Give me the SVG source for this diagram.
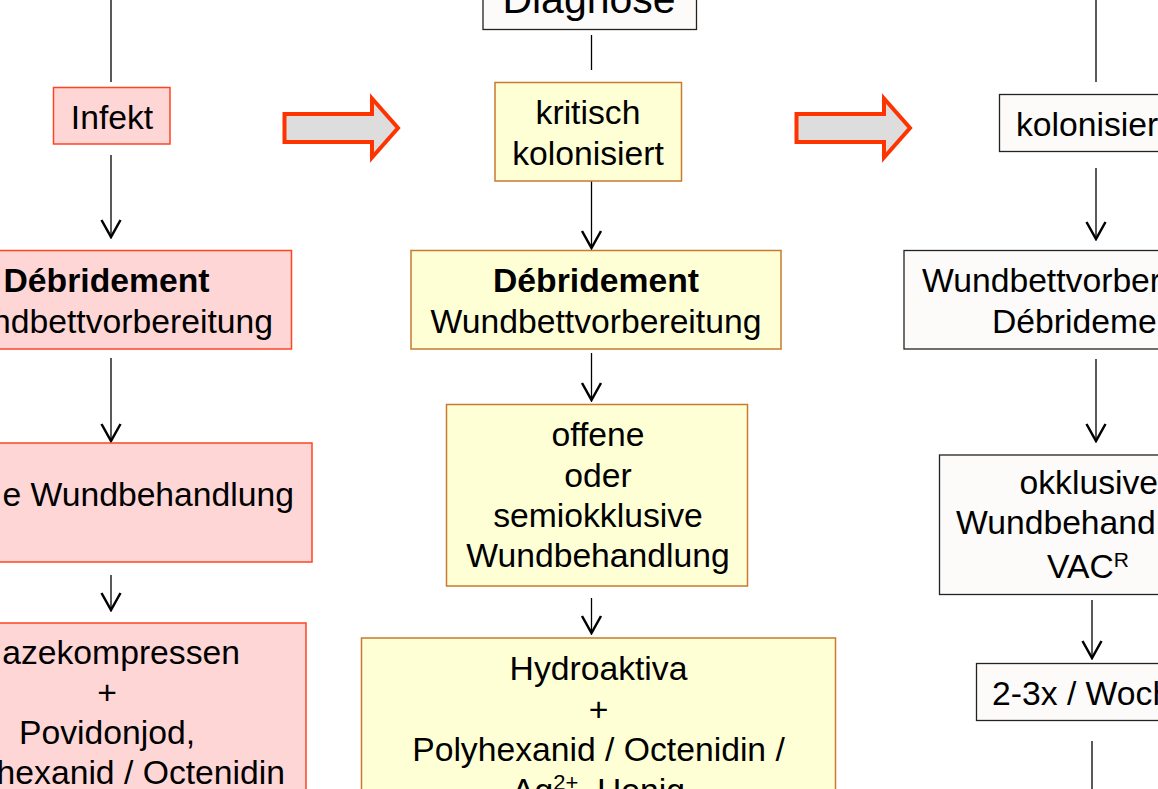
<svg xmlns="http://www.w3.org/2000/svg" width="1158" height="789" viewBox="0 0 1158 789">
<style>
text{font-family:"Liberation Sans",Arial,sans-serif;font-size:33.7px;fill:#000}
.c{text-anchor:middle}
.e{text-anchor:end}
.b{font-weight:bold}
.red rect{fill:#FFD6D6;stroke:#FF4422;stroke-width:1.5}
.yel rect{fill:#FFFFD6;stroke:#C87A2E;stroke-width:1.5}
.wht rect{fill:#FCFBF9;stroke:#222;stroke-width:1.3}
.ln{stroke:#000;stroke-width:1.3;fill:none}
.big{fill:#DDDDDD;stroke:#FF3300;stroke-width:4;stroke-linejoin:miter}
</style>
<defs>
<marker id="v" viewBox="-20 -12 22 24" refX="0" refY="0" markerWidth="22" markerHeight="24" markerUnits="userSpaceOnUse" orient="auto">
<path d="M-17,-9.5 L0,0 L-17,9.5" fill="none" stroke="#000" stroke-width="2.5"/>
</marker>
</defs>
<rect width="1158" height="789" fill="#fff"/>

<g id="connectors">
<line class="ln" x1="111" y1="0" x2="111" y2="82"/>
<line class="ln" x1="111" y1="155" x2="111" y2="237" marker-end="url(#v)"/>
<line class="ln" x1="111" y1="358" x2="111" y2="441" marker-end="url(#v)"/>
<line class="ln" x1="111" y1="575" x2="111" y2="610" marker-end="url(#v)"/>
<line class="ln" x1="591.5" y1="35" x2="591.5" y2="70"/>
<line class="ln" x1="591.5" y1="181" x2="591.5" y2="248" marker-end="url(#v)"/>
<line class="ln" x1="591.5" y1="353" x2="591.5" y2="400" marker-end="url(#v)"/>
<line class="ln" x1="591.5" y1="598" x2="591.5" y2="633" marker-end="url(#v)"/>
<line class="ln" x1="1096" y1="0" x2="1096" y2="82"/>
<line class="ln" x1="1096" y1="168" x2="1096" y2="239" marker-end="url(#v)"/>
<line class="ln" x1="1096" y1="359" x2="1096" y2="441" marker-end="url(#v)"/>
<line class="ln" x1="1092" y1="600" x2="1092" y2="658" marker-end="url(#v)"/>
<line class="ln" x1="1092" y1="741" x2="1092" y2="789"/>
<path id="bigarrow1" class="big" d="M284.5,114 L372,114 L372,98.5 L398,128 L372,157.5 L372,142 L284.5,142 Z"/>
<path id="bigarrow2" class="big" d="M796.5,114 L884,114 L884,98.5 L910,128 L884,157.5 L884,142 L796.5,142 Z"/>
</g>

<g id="n-infekt" class="red">
<rect x="53.5" y="87.5" width="116.5" height="56.5"/>
<text class="c" x="112" y="129">Infekt</text>
</g>
<g id="n-debr-left" class="red">
<rect x="-78.5" y="250.5" width="370" height="98.5"/>
<text class="c b" x="106.5" y="292">Débridement</text>
<text class="e" x="273" y="333">ndbettvorbereitung</text>
</g>
<g id="n-wund-left" class="red">
<rect x="-98" y="443" width="410" height="119"/>
<text class="e" x="294" y="506">e Wundbehandlung</text>
</g>
<g id="n-gaze" class="red">
<rect x="-92" y="623" width="398" height="200"/>
<text class="e" x="240" y="664">azekompressen</text>
<text class="c" x="107" y="704">+</text>
<text class="c" x="107" y="744">Povidonjod,</text>
<text class="e" x="285" y="784">hexanid / Octenidin</text>
</g>

<g id="n-diagnose" class="wht">
<rect x="483" y="-40" width="213.5" height="69.5"/>
<text class="c" x="589" y="13" style="font-size:41px">Diagnose</text>
</g>
<g id="n-kritisch" class="yel">
<rect x="495" y="82.5" width="186.5" height="98.5"/>
<text class="c" x="588" y="124">kritisch</text>
<text class="c" x="588" y="165">kolonisiert</text>
</g>
<g id="n-debr-mid" class="yel">
<rect x="411" y="250.5" width="370" height="98.5"/>
<text class="c b" x="596" y="292">Débridement</text>
<text class="c" x="596" y="333">Wundbettvorbereitung</text>
</g>
<g id="n-offene" class="yel">
<rect x="446.5" y="404.5" width="301" height="181.5"/>
<text class="c" x="598" y="446">offene</text>
<text class="c" x="598" y="487">oder</text>
<text class="c" x="598" y="527">semiokklusive</text>
<text class="c" x="598" y="567">Wundbehandlung</text>
</g>
<g id="n-hydro" class="yel">
<rect x="361.5" y="638" width="474" height="200"/>
<text class="c" x="598.5" y="680">Hydroaktiva</text>
<text class="c" x="598.5" y="720.5">+</text>
<text class="c" x="598.5" y="761">Polyhexanid / Octenidin /</text>
<text class="c" x="598.5" y="801.5">Ag<tspan dy="-12" style="font-size:22px">2+</tspan><tspan dy="12">, Honig</tspan></text>
</g>

<g id="n-kolonisiert" class="wht">
<rect x="999.5" y="94.5" width="194" height="57"/>
<text x="1016" y="136">kolonisier</text>
</g>
<g id="n-wund-right" class="wht">
<rect x="904" y="250.5" width="370" height="98.5"/>
<text x="922" y="292">Wundbettvorber</text>
<text x="992" y="333">Débrideme</text>
</g>
<g id="n-okklusive" class="wht">
<rect x="939.5" y="455" width="300" height="139.5"/>
<text x="1019.5" y="494">okklusive</text>
<text x="956" y="534">Wundbehand</text>
<text x="1047" y="578">VAC<tspan dy="-11.5" style="font-size:21px">R</tspan></text>
</g>
<g id="n-woche" class="wht">
<rect x="976.5" y="663.5" width="230" height="57"/>
<text x="992" y="705">2-3x / Woch</text>
</g>
</svg>
